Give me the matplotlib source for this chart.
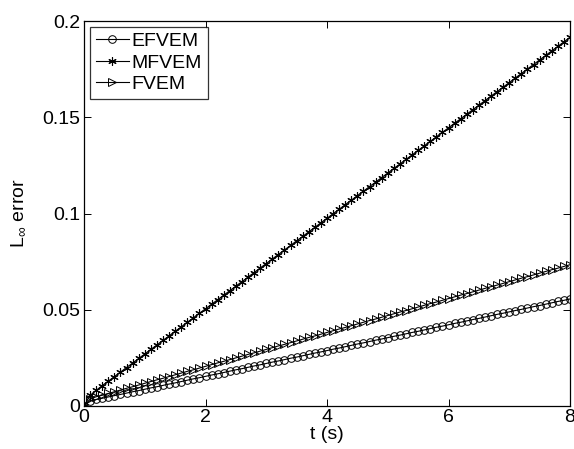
import numpy as np
import matplotlib
matplotlib.use('Agg')
import matplotlib.pyplot as plt

plt.rcParams['font.family'] = ['Liberation Sans', 'DejaVu Sans']
plt.rcParams['mathtext.fontset'] = 'custom'
plt.rcParams['mathtext.rm'] = 'Liberation Sans'
plt.rcParams['mathtext.it'] = 'Liberation Sans'

# time samples (s)
t = np.linspace(0, 8, 81)

efvem = [0.0000, 0.0028, 0.0034, 0.0040, 0.0047, 0.0054, 0.0060, 0.0067, 0.0074, 0.0080,
         0.0087, 0.0094, 0.0100, 0.0107, 0.0114, 0.0120, 0.0127, 0.0134, 0.0141, 0.0147,
         0.0154, 0.0161, 0.0167, 0.0174, 0.0181, 0.0188, 0.0194, 0.0201, 0.0208, 0.0214,
         0.0221, 0.0228, 0.0234, 0.0241, 0.0248, 0.0254, 0.0261, 0.0268, 0.0275, 0.0281,
         0.0288, 0.0295, 0.0301, 0.0308, 0.0315, 0.0322, 0.0328, 0.0335, 0.0342, 0.0348,
         0.0355, 0.0362, 0.0368, 0.0375, 0.0382, 0.0388, 0.0395, 0.0402, 0.0409, 0.0415,
         0.0422, 0.0429, 0.0435, 0.0442, 0.0449, 0.0455, 0.0462, 0.0469, 0.0476, 0.0482,
         0.0489, 0.0496, 0.0502, 0.0509, 0.0516, 0.0522, 0.0529, 0.0536, 0.0543, 0.0549,
         0.0556]

mfvem = [0.0000, 0.0055, 0.0081, 0.0106, 0.0129, 0.0153, 0.0176, 0.0200, 0.0223, 0.0247,
         0.0270, 0.0294, 0.0317, 0.0341, 0.0364, 0.0388, 0.0411, 0.0435, 0.0458, 0.0482,
         0.0505, 0.0529, 0.0552, 0.0576, 0.0599, 0.0623, 0.0646, 0.0670, 0.0693, 0.0717,
         0.0740, 0.0764, 0.0787, 0.0811, 0.0834, 0.0858, 0.0881, 0.0905, 0.0928, 0.0952,
         0.0975, 0.0999, 0.1022, 0.1046, 0.1069, 0.1093, 0.1116, 0.1140, 0.1163, 0.1187,
         0.1210, 0.1234, 0.1257, 0.1281, 0.1304, 0.1328, 0.1351, 0.1375, 0.1398, 0.1422,
         0.1445, 0.1469, 0.1492, 0.1516, 0.1539, 0.1563, 0.1586, 0.1610, 0.1633, 0.1657,
         0.1680, 0.1704, 0.1727, 0.1751, 0.1774, 0.1798, 0.1821, 0.1845, 0.1868, 0.1892,
         0.1915]

fvem = [0.0000, 0.0036, 0.0048, 0.0056, 0.0065, 0.0074, 0.0083, 0.0092, 0.0100, 0.0109,
        0.0118, 0.0127, 0.0136, 0.0144, 0.0153, 0.0162, 0.0171, 0.0180, 0.0188, 0.0197,
        0.0206, 0.0215, 0.0224, 0.0232, 0.0241, 0.0250, 0.0259, 0.0268, 0.0276, 0.0285,
        0.0294, 0.0303, 0.0312, 0.0320, 0.0329, 0.0338, 0.0347, 0.0356, 0.0364, 0.0373,
        0.0382, 0.0391, 0.0400, 0.0408, 0.0417, 0.0426, 0.0435, 0.0444, 0.0452, 0.0461,
        0.0470, 0.0479, 0.0488, 0.0496, 0.0505, 0.0514, 0.0523, 0.0532, 0.0540, 0.0549,
        0.0558, 0.0567, 0.0576, 0.0584, 0.0593, 0.0602, 0.0611, 0.0620, 0.0628, 0.0637,
        0.0646, 0.0655, 0.0664, 0.0672, 0.0681, 0.0690, 0.0699, 0.0708, 0.0716, 0.0725,
        0.0734]

xticks = [0, 2, 4, 6, 8]
yticks = [0, 0.05, 0.1, 0.15, 0.2]

fig = plt.figure(figsize=(5.74, 4.49), dpi=100)
ax = fig.add_axes([84 / 574, 43 / 449, 486 / 574, 385 / 449])

ax.plot(t, efvem, '-', color='k', lw=0.8, marker='o', ms=5.5, mfc='none',
        mec='k', mew=0.7, label='EFVEM')
ax.plot(t, mfvem, '-', color='k', lw=0.8, marker=(6, 2, 0), ms=6, mec='k',
        mew=0.8, label='MFVEM')
ax.plot(t, fvem, '-', color='k', lw=0.8, marker='>', ms=5.5, mfc='none',
        mec='k', mew=0.7, label='FVEM')

ax.set_xlim(0, 8)
ax.set_ylim(0, 0.2)
ax.set_xticks(xticks)
ax.set_xticklabels(['%g' % v for v in xticks])
ax.set_yticks(yticks)
ax.set_yticklabels(['%g' % v for v in yticks])
ax.tick_params(direction='in', top=True, right=True, length=5, width=0.7,
               labelsize=14, pad=2.5)
for s in ax.spines.values():
    s.set_linewidth(0.9)

ax.set_xlabel('t (s)', fontsize=14, labelpad=0)
ax.set_ylabel(r'L$_{\infty}$ error', fontsize=14, labelpad=11)

leg = ax.legend(loc='upper left', fontsize=14, frameon=True, fancybox=False,
                edgecolor='k', handlelength=1.7, handletextpad=0.15,
                labelspacing=0.2, borderpad=0.3, borderaxespad=0.3)
leg.get_frame().set_linewidth(0.9)

fig.savefig('out.png', dpi=100)
